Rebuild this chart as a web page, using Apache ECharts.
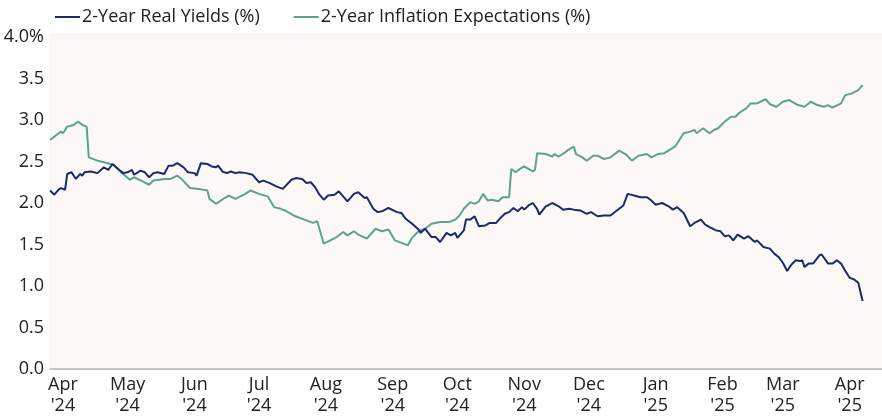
<!DOCTYPE html>
<html>
<head>
<meta charset="utf-8">
<script src="https://cdn.jsdelivr.net/npm/echarts@6/dist/echarts.min.js"></script>
<style>
html,body{margin:0;padding:0;background:#ffffff;}
#chart{width:882px;height:418px;}
</style>
</head>
<body>
<div id="chart"></div>
<script>
// Axis range (calendar days)
const axisStart = '2024-03-26';
const axisEnd = '2025-04-16';
const monthNames = ['Jan','Feb','Mar','Apr','May','Jun','Jul','Aug','Sep','Oct','Nov','Dec'];
const yTicks = [0, 0.5, 1.0, 1.5, 2.0, 2.5, 3.0, 3.5, 4.0];

const seriesNames = ['2-Year Real Yields (%)', '2-Year Inflation Expectations (%)'];

// 2-Year Real Yields (%)
const realDates = [
'2024-03-26','2024-03-28','2024-03-30','2024-03-31','2024-04-02','2024-04-03','2024-04-05','2024-04-07','2024-04-09','2024-04-10',
'2024-04-11','2024-04-14','2024-04-17','2024-04-20','2024-04-22','2024-04-24','2024-04-27','2024-04-29','2024-05-01','2024-05-03',
'2024-05-04','2024-05-07','2024-05-09','2024-05-11','2024-05-13','2024-05-15','2024-05-18','2024-05-20','2024-05-22','2024-05-24',
'2024-05-27','2024-05-29','2024-06-01','2024-06-02','2024-06-04','2024-06-07','2024-06-09','2024-06-11','2024-06-12','2024-06-14',
'2024-06-16','2024-06-18','2024-06-20','2024-06-22','2024-06-25','2024-06-28','2024-07-01','2024-07-03','2024-07-06','2024-07-09',
'2024-07-12','2024-07-16','2024-07-18','2024-07-21','2024-07-23','2024-07-25','2024-07-27','2024-07-29','2024-07-31','2024-08-02',
'2024-08-05','2024-08-07','2024-08-09','2024-08-11','2024-08-14','2024-08-16','2024-08-19','2024-08-20','2024-08-23','2024-08-25',
'2024-08-27','2024-08-30','2024-09-03','2024-09-05','2024-09-07','2024-09-10','2024-09-13','2024-09-14','2024-09-16','2024-09-19',
'2024-09-21','2024-09-23','2024-09-26','2024-09-28','2024-09-30','2024-10-01','2024-10-04','2024-10-05','2024-10-07','2024-10-09',
'2024-10-11','2024-10-14','2024-10-16','2024-10-19','2024-10-21','2024-10-23','2024-10-25','2024-10-27','2024-10-29','2024-10-31',
'2024-11-01','2024-11-03','2024-11-05','2024-11-07','2024-11-08','2024-11-11','2024-11-12','2024-11-14','2024-11-17','2024-11-19',
'2024-11-22','2024-11-24','2024-11-27','2024-11-30','2024-12-02','2024-12-05','2024-12-08','2024-12-11','2024-12-14','2024-12-17',
'2024-12-19','2024-12-22','2024-12-25','2024-12-28','2024-12-30','2025-01-01','2025-01-04','2025-01-07','2025-01-09','2025-01-11',
'2025-01-14','2025-01-17','2025-01-19','2025-01-22','2025-01-24','2025-01-26','2025-01-29','2025-01-31','2025-02-02','2025-02-04',
'2025-02-06','2025-02-08','2025-02-11','2025-02-13','2025-02-16','2025-02-17','2025-02-20','2025-02-23','2025-02-25','2025-02-27',
'2025-03-01','2025-03-03','2025-03-05','2025-03-07','2025-03-09','2025-03-10','2025-03-11','2025-03-13','2025-03-15','2025-03-18',
'2025-03-19','2025-03-22','2025-03-24','2025-03-26','2025-03-28','2025-03-30','2025-04-01','2025-04-03','2025-04-05','2025-04-07'
];
const realValues = [
2.15,2.10,2.16,2.18,2.16,2.35,2.37,2.29,2.35,2.33,
2.37,2.38,2.36,2.43,2.40,2.47,2.40,2.36,2.37,2.40,
2.34,2.39,2.37,2.31,2.36,2.37,2.35,2.45,2.45,2.48,
2.43,2.37,2.36,2.33,2.48,2.47,2.44,2.43,2.45,2.38,
2.36,2.38,2.36,2.37,2.36,2.34,2.25,2.27,2.24,2.20,
2.17,2.28,2.30,2.29,2.24,2.25,2.19,2.10,2.04,2.09,
2.10,2.14,2.08,2.02,2.11,2.13,2.06,2.07,1.93,1.89,
1.90,1.94,1.89,1.88,1.81,1.75,1.68,1.64,1.69,1.59,
1.59,1.53,1.64,1.61,1.64,1.58,1.67,1.80,1.80,1.84,
1.72,1.73,1.76,1.76,1.82,1.87,1.89,1.94,1.90,1.95,
1.92,1.97,2.00,1.93,1.86,1.96,1.97,2.00,1.96,1.92,
1.93,1.92,1.91,1.87,1.89,1.84,1.85,1.85,1.91,1.97,
2.11,2.09,2.07,2.07,2.03,1.98,2.00,1.96,1.92,1.95,
1.88,1.72,1.76,1.80,1.74,1.71,1.67,1.66,1.60,1.61,
1.55,1.62,1.57,1.60,1.53,1.55,1.47,1.45,1.39,1.35,
1.28,1.18,1.26,1.31,1.30,1.31,1.23,1.27,1.27,1.37,
1.38,1.27,1.27,1.31,1.27,1.18,1.10,1.08,1.04,0.82
];

// 2-Year Inflation Expectations (%)
const inflDates = [
'2024-03-26','2024-03-29','2024-03-31','2024-04-01','2024-04-03','2024-04-06','2024-04-08','2024-04-10','2024-04-12','2024-04-13',
'2024-04-17','2024-04-20','2024-04-23','2024-04-25','2024-04-28','2024-05-02','2024-05-04','2024-05-08','2024-05-11','2024-05-13',
'2024-05-18','2024-05-21','2024-05-24','2024-05-26','2024-05-30','2024-06-03','2024-06-07','2024-06-08','2024-06-11','2024-06-15',
'2024-06-17','2024-06-20','2024-06-24','2024-06-27','2024-07-01','2024-07-05','2024-07-08','2024-07-11','2024-07-13','2024-07-17',
'2024-07-22','2024-07-26','2024-07-28','2024-07-31','2024-08-03','2024-08-06','2024-08-09','2024-08-11','2024-08-14','2024-08-16',
'2024-08-20','2024-08-24','2024-08-27','2024-08-30','2024-09-02','2024-09-06','2024-09-08','2024-09-10','2024-09-13','2024-09-16',
'2024-09-19','2024-09-23','2024-09-27','2024-09-30','2024-10-02','2024-10-04','2024-10-07','2024-10-09','2024-10-11','2024-10-13',
'2024-10-15','2024-10-17','2024-10-20','2024-10-22','2024-10-25','2024-10-26','2024-10-28','2024-10-30','2024-11-01','2024-11-05',
'2024-11-06','2024-11-07','2024-11-11','2024-11-14','2024-11-15','2024-11-17','2024-11-20','2024-11-22','2024-11-24','2024-11-25',
'2024-11-28','2024-11-30','2024-12-03','2024-12-05','2024-12-08','2024-12-11','2024-12-15','2024-12-18','2024-12-21','2024-12-24',
'2024-12-28','2024-12-30','2025-01-02','2025-01-05','2025-01-08','2025-01-10','2025-01-12','2025-01-14','2025-01-17','2025-01-19',
'2025-01-20','2025-01-23','2025-01-26','2025-01-28','2025-01-30','2025-02-02','2025-02-05','2025-02-07','2025-02-09','2025-02-12',
'2025-02-14','2025-02-17','2025-02-21','2025-02-23','2025-02-26','2025-03-01','2025-03-04','2025-03-08','2025-03-11','2025-03-14',
'2025-03-17','2025-03-20','2025-03-22','2025-03-24','2025-03-28','2025-03-30','2025-04-02','2025-04-05','2025-04-07'
];
const inflValues = [
2.76,2.82,2.86,2.84,2.92,2.94,2.98,2.94,2.92,2.55,
2.51,2.49,2.47,2.45,2.37,2.28,2.31,2.26,2.22,2.27,
2.29,2.29,2.33,2.29,2.18,2.17,2.15,2.05,1.99,2.06,
2.09,2.05,2.10,2.15,2.11,2.08,1.95,1.93,1.91,1.85,
1.80,1.76,1.78,1.51,1.55,1.59,1.65,1.61,1.66,1.62,
1.57,1.69,1.66,1.68,1.55,1.51,1.49,1.58,1.66,1.69,
1.75,1.77,1.77,1.80,1.85,1.93,2.01,1.99,2.02,2.11,
2.03,2.04,2.02,2.07,2.07,2.41,2.37,2.41,2.44,2.38,
2.40,2.60,2.59,2.56,2.59,2.56,2.61,2.65,2.68,2.59,
2.55,2.51,2.57,2.57,2.53,2.55,2.63,2.59,2.51,2.57,
2.59,2.55,2.59,2.60,2.65,2.68,2.76,2.84,2.86,2.88,
2.84,2.90,2.84,2.88,2.90,2.98,3.04,3.04,3.09,3.14,
3.20,3.20,3.25,3.19,3.16,3.22,3.24,3.18,3.16,3.22,
3.18,3.16,3.18,3.15,3.20,3.30,3.32,3.36,3.42
];

// Build calendar-day categories
function ymd(d){
  const m = d.getUTCMonth()+1, dd = d.getUTCDate();
  return d.getUTCFullYear()+'-'+(m<10?'0':'')+m+'-'+(dd<10?'0':'')+dd;
}
const categories = [];
for (let t = Date.parse(axisStart+'T00:00:00Z'); t <= Date.parse(axisEnd+'T00:00:00Z'); t += 86400000) {
  categories.push(ymd(new Date(t)));
}
function align(dates, values){
  const map = {};
  dates.forEach((d,i)=>{ map[d] = values[i]; });
  return categories.map(c => (c in map) ? map[c] : '-');
}

const FONT = '"Open Sans", Lato, sans-serif';
const BG = '#fbf8f6';
const chart = echarts.init(document.getElementById('chart'), null, {renderer:'canvas'});
chart.setOption({
  animation: false,
  backgroundColor: '#ffffff',
  textStyle: {fontFamily: FONT},
  color: ['#1b2a6b', '#5aa48f'],
  graphic: [{
    type: 'rect', left: 50, top: 33, z: -10, silent: true,
    shape: {width: 832, height: 6},
    style: {fill: BG}
  }],
  legend: {
    data: seriesNames,
    left: 50,
    top: 3,
    icon: 'rect',
    itemWidth: 25,
    itemHeight: 2,
    itemGap: 34,
    textStyle: {fontFamily: FONT, fontSize: 18, color: '#222222', padding: [0, 0, 0, -3]}
  },
  grid: {
    show: true,
    backgroundColor: BG,
    borderWidth: 0,
    left: 50, right: 0, top: 37, bottom: 49,
    containLabel: false
  },
  xAxis: {
    type: 'category',
    data: categories,
    boundaryGap: false,
    axisLine: {show: true, lineStyle: {color: '#b4b4b4', width: 1.5}},
    axisTick: {show: false},
    splitLine: {show: false},
    axisLabel: {
      interval: function(idx, val){ return val.slice(8) === '01'; },
      formatter: function(val){
        const m = parseInt(val.slice(5,7),10)-1;
        return monthNames[m] + "\n'" + val.slice(2,4);
      },
      fontFamily: FONT, fontSize: 18, color: '#222222', lineHeight: 21, margin: 5
    }
  },
  yAxis: {
    type: 'value',
    min: 0, max: 4, interval: 0.5,
    axisLine: {show: false},
    axisTick: {show: false},
    splitLine: {show: false},
    axisLabel: {
      formatter: function(v){ return v === yTicks[yTicks.length-1] ? v.toFixed(1)+'%' : v.toFixed(1); },
      fontFamily: FONT, fontSize: 18, color: '#222222', margin: 6
    }
  },
  series: [
    {
      name: seriesNames[0], type: 'line', data: align(realDates, realValues),
      connectNulls: true, showSymbol: false, symbol: 'none',
      lineStyle: {width: 2, color: '#1b2a6b'}, z: 3
    },
    {
      name: seriesNames[1], type: 'line', data: align(inflDates, inflValues),
      connectNulls: true, showSymbol: false, symbol: 'none',
      lineStyle: {width: 2, color: '#5aa48f'}, z: 2
    }
  ]
});
</script>
</body>
</html>
